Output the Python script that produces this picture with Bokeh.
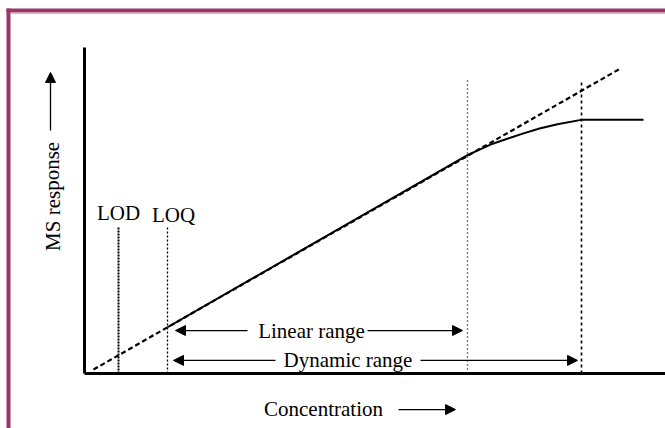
from bokeh.plotting import figure
from bokeh.models import Range1d, Label, Arrow, NormalHead
from bokeh.embed import file_html
from bokeh.resources import INLINE

# ---- data (concentration vs MS response, arbitrary units) ----
ideal_conc = [0.18, 10.72]
ideal_resp = [0.12, 9.30]

meas_conc = [1.66, 7.66, 8.12, 8.50, 8.78, 9.10, 9.46, 9.96, 11.18]
meas_resp = [1.41, 6.66, 6.98, 7.18, 7.32, 7.47, 7.60, 7.74, 7.74]

limit_names = ["LOD", "LOQ"]
limit_conc = [0.68, 1.66]
limit_top = [4.45, 4.45]
limit_label_x = [0.68, 1.78]
limit_label_y = [4.88, 4.82]

bound_conc = [7.66, 9.94]      # end of linear range, end of dynamic range
bound_top = [8.93, 8.93]

range_names = ["Linear range", "Dynamic range"]
range_y = [1.31, 0.40]
range_head_left = [1.82, 1.78]
range_head_right = [7.56, 9.86]
range_tail_left = [3.26, 3.82]
range_tail_right = [5.66, 6.72]
range_label_x = [4.54, 5.27]

x_axis_end = 11.62
y_axis_end = 9.94

SERIF = "Liberation Serif"
FS = "21px"
PURPLE = "#9b3565"

p = figure(width=665, height=428, output_backend="svg", toolbar_location=None,
           x_range=Range1d(-1.68, 11.62), y_range=Range1d(-1.677, 11.372),
           x_axis_location=None, y_axis_location=None,
           min_border=0, min_border_left=0, min_border_right=0,
           min_border_top=0, min_border_bottom=0)
p.xgrid.visible = False
p.ygrid.visible = False
p.outline_line_color = None

# axes lines
p.segment(x0=[0, 0], y0=[0, 0], x1=[x_axis_end, 0], y1=[0, y_axis_end],
          line_color="black", line_width=3)

# ideal (extrapolated) linear response
p.line(ideal_conc, ideal_resp, line_color="black", line_width=2.2, line_dash="5 3")
# measured response with saturation
p.line(meas_conc, meas_resp, line_color="black", line_width=2)

# LOD / LOQ dotted verticals
p.segment(x0=[limit_conc[0]], y0=[0], x1=[limit_conc[0]], y1=[limit_top[0]],
          line_color="black", line_width=2, line_dash="2 1")
p.segment(x0=[limit_conc[1]], y0=[0], x1=[limit_conc[1]], y1=[limit_top[1]],
          line_color="black", line_width=1.3, line_dash="2 2")
# range bounds
p.segment(x0=[bound_conc[0]], y0=[0], x1=[bound_conc[0]], y1=[bound_top[0]],
          line_color="black", line_width=1.4, line_dash="1 3")
p.segment(x0=[bound_conc[1]], y0=[0], x1=[bound_conc[1]], y1=[bound_top[1]],
          line_color="black", line_width=1.6, line_dash="3 3")

for name, lx, ly in zip(limit_names, limit_label_x, limit_label_y):
    p.add_layout(Label(x=lx, y=ly, text=name, text_font=SERIF, text_font_size=FS,
                       text_align="center", text_baseline="middle", text_color="black"))

def head():
    return NormalHead(size=10, fill_color="black", line_color="black", line_width=1)

for name, yy, hl, hr, tl, tr, lx in zip(range_names, range_y, range_head_left,
                                        range_head_right, range_tail_left,
                                        range_tail_right, range_label_x):
    p.add_layout(Arrow(x_start=tl, y_start=yy, x_end=hl, y_end=yy, end=head(),
                       line_color="black", line_width=1.3))
    p.add_layout(Arrow(x_start=tr, y_start=yy, x_end=hr, y_end=yy, end=head(),
                       line_color="black", line_width=1.3))
    p.add_layout(Label(x=lx, y=yy, text=name, text_font=SERIF, text_font_size=FS,
                       text_align="center", text_baseline="middle", text_color="black"))

# axis titles with arrows
p.add_layout(Label(x=4.78, y=-1.07, text="Concentration", text_font=SERIF,
                   text_font_size=FS, text_align="center", text_baseline="middle",
                   text_color="black"))
p.add_layout(Arrow(x_start=6.28, y_start=-1.10, x_end=7.42, y_end=-1.10, end=head(),
                   line_color="black", line_width=1.3))
p.add_layout(Label(x=-0.64, y=5.40, text="MS response", text_font=SERIF,
                   text_font_size=FS, text_align="center", text_baseline="middle",
                   angle=1.5708, text_color="black"))
p.add_layout(Arrow(x_start=-0.68, y_start=7.41, x_end=-0.68, y_end=9.18, end=head(),
                   line_color="black", line_width=1.3))

# frame border (purple) top and left, with light inner edge
p.segment(x0=[-1.56], y0=[11.067], x1=[11.62], y1=[11.067], line_color=PURPLE, line_width=4)
p.segment(x0=[-1.52], y0=[11.128], x1=[-1.52], y1=[-1.677], line_color=PURPLE, line_width=4)
p.segment(x0=[-1.48], y0=[10.975], x1=[11.62], y1=[10.975], line_color="#c4c4c4", line_width=1)

open("out.html", "w").write(file_html(p, INLINE))
